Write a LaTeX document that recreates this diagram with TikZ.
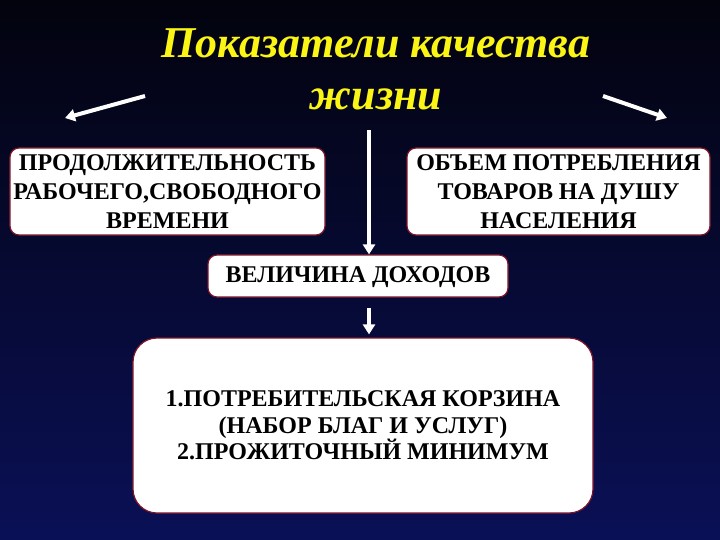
\documentclass[tikz,border=0pt]{standalone}
\usepackage{fontspec}
\setmainfont{Liberation Serif}
\usepackage{tikz}
\usetikzlibrary{arrows.meta, positioning, calc}

\definecolor{bgtop}{RGB}{3,3,14}
\definecolor{bgbot}{RGB}{10,16,86}
\definecolor{boxline}{RGB}{125,20,40}
\definecolor{titley}{RGB}{250,245,20}

\begin{document}
\begin{tikzpicture}[x=1bp,y=-1bp,
    box/.style={draw=boxline, line width=1.2bp, fill=white, rounded corners=9bp,
                align=center, inner sep=0pt, font=\bfseries\fontsize{24bp}{29bp}\selectfont},
    bigbox/.style={box, rounded corners=24bp, font=\bfseries\fontsize{24bp}{26.5bp}\selectfont},
    arr/.style={draw=white, line width=4bp, -{Triangle[width=12bp,length=10bp]}},
    title/.style={text=titley, align=center, inner sep=0pt,
                  font=\bfseries\itshape\fontsize{44bp}{52bp}\selectfont}]
    % background
    \useasboundingbox (0,0) rectangle (720,540);
    \shade[top color=bgtop, bottom color=bgbot] (0,0) rectangle (720,540);

    \node[title] (title) at (376,69) {Показатели качества\\жизни};

    \node[box, minimum width=315bp, minimum height=87bp] (work) at (167.5,191.5)
        {ПРОДОЛЖИТЕЛЬНОСТЬ\\РАБОЧЕГО,СВОБОДНОГО\\ВРЕМЕНИ};
    \node[box, minimum width=303bp, minimum height=87bp] (goods) at (558.5,191.5)
        {ОБЪЕМ ПОТРЕБЛЕНИЯ\\ТОВАРОВ НА ДУШУ\\НАСЕЛЕНИЯ};
    \node[box, minimum width=300bp, minimum height=42bp, text depth=2bp] (income) at (358,276)
        {ВЕЛИЧИНА ДОХОДОВ};
    \node[bigbox, minimum width=460bp, minimum height=175bp] (basket) at (363,425.5)
        {1.ПОТРЕБИТЕЛЬСКАЯ КОРЗИНА\\(НАБОР БЛАГ И УСЛУГ)\\2.ПРОЖИТОЧНЫЙ МИНИМУМ};

    % arrows
    \coordinate (lstart) at (145,96);
    \coordinate (lend) at (65,118);
    \coordinate (rstart) at (603,96);
    \coordinate (rend) at (667,118);
    \coordinate (vtop) at (369,130);
    \draw[arr] (lstart) -- (lend);
    \draw[arr] (rstart) -- (rend);
    \draw[arr] (vtop) -- (vtop |- income.north);
    \draw[arr] ($(vtop |- income.south)+(0,10)$) -- ($(vtop |- basket.north)+(0,-3)$);
\end{tikzpicture}
\end{document}
